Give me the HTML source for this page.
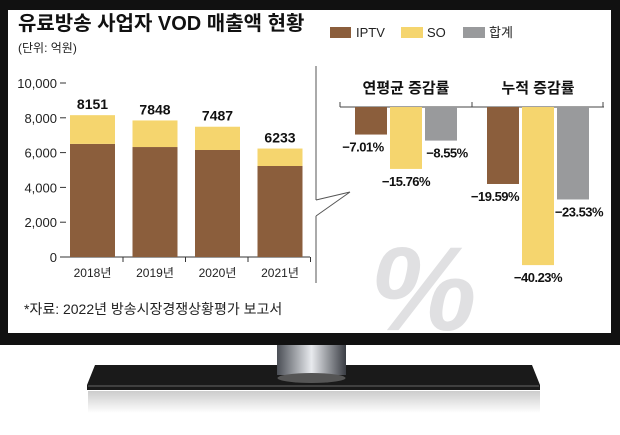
<!DOCTYPE html>
<html><head><meta charset="utf-8"><style>
body{margin:0;width:620px;height:430px;background:#fff;overflow:hidden;font-family:"Liberation Sans","Noto Sans CJK KR",sans-serif}
svg text{font-family:"Liberation Sans","Noto Sans CJK KR",sans-serif}
</style></head><body>
<svg width="620" height="430" viewBox="0 0 620 430">
<defs>
<linearGradient id="neck" x1="0" x2="1"><stop offset="0" stop-color="#4a4e55"/><stop offset="0.5" stop-color="#e8eaee"/><stop offset="1" stop-color="#3a3d44"/></linearGradient>
<linearGradient id="refl" x1="0" y1="0" x2="0" y2="1"><stop offset="0" stop-color="#999"/><stop offset="1" stop-color="#fff"/></linearGradient>
</defs>
<rect x="0" y="0" width="620" height="345" fill="#111"/>
<rect x="8" y="10" width="603" height="323" fill="#fff"/>
<path d="M95 365 L532 365 L540 385 L540 390 L87 390 L87 385 Z" fill="#1a1a1a"/>
<line x1="88" y1="386" x2="539" y2="386" stroke="#666"/>
<rect x="277" y="345" width="69" height="30" fill="url(#neck)"/>
<ellipse cx="311.5" cy="378" rx="34" ry="5" fill="#555"/>
<rect x="88" y="391" width="452" height="22" fill="url(#refl)" opacity="0.5"/>
<text x="18" y="30" font-size="20" font-weight="bold" fill="#111">유료방송 사업자 VOD 매출액 현황</text>
<text x="18" y="52" font-size="12" fill="#222">(단위: 억원)</text>
<g>
<rect x="330" y="27" width="21" height="11" fill="#8B5E3C"/>
<text x="356" y="37" font-size="13" fill="#222">IPTV</text>
<rect x="401" y="27" width="22" height="11" fill="#F5D56E"/>
<text x="427" y="37" font-size="13" fill="#222">SO</text>
<rect x="463" y="27" width="22" height="11" fill="#999a9c"/>
<text x="489" y="37" font-size="13" fill="#222">합계</text>
</g>
<g id="left"></g>
<line x1="316" y1="66" x2="316" y2="200" stroke="#555"/>
<path d="M316 200 L350 192 M316 216 L316 283 M316 216 L350 192" stroke="#555" fill="none"/>
<text x="370" y="330" font-size="120" font-style="italic" font-weight="bold" fill="#e0e0e2">%</text>
<g id="right"></g>
<text x="24" y="314" font-size="14" fill="#222">*자료: 2022년 방송시장경쟁상황평가 보고서</text>
</svg>
<script>
const years=["2018년","2019년","2020년","2021년"];
const iptv=[6500,6320,6150,5230];
const totals=[8151,7848,7487,6233];
const yTicks=[0,2000,4000,6000,8000,10000];
const yTickLabels=["0","2,000","4,000","6,000","8,000","10,000"];
const growthGroups=["연평균 증감률","누적 증감률"];
const growthIptv=[-7.01,-19.59];
const growthSo=[-15.76,-40.23];
const growthTotal=[-8.55,-23.53];
const NS="http://www.w3.org/2000/svg";
function mk(p,t,a){const e=document.createElementNS(NS,t);for(const k in a)e.setAttribute(k,a[k]);p.appendChild(e);return e;}
const L=document.getElementById('left');
const y0=257,yTop=83;
const yS=v=>y0-(v/10000)*(y0-yTop);
const xS=i=>70+i*62.5;
const bw=45;
let ax=mk(L,'line',{x1:64,y1:y0,x2:310,y2:y0,stroke:'#333'});


yTicks.forEach((v,i)=>{
 const tk=mk(L,'line',{x1:60,y1:yS(v),x2:66,y2:yS(v),stroke:'#333'});
 
 
 const t=mk(L,'text',{x:57,y:yS(v)+5,'font-size':13,'text-anchor':'end',fill:'#222'});
 t.textContent=yTickLabels[i];
 
 
});
years.forEach((yr,i)=>{
 const x=xS(i);
 const b=mk(L,'rect',{x:x,y:yS(iptv[i]),width:bw,height:y0-yS(iptv[i]),fill:'#8B5E3C'});
 
 
 const s=mk(L,'rect',{x:x,y:yS(totals[i]),width:bw,height:yS(iptv[i])-yS(totals[i]),fill:'#F5D56E'});
 
 
 const v=mk(L,'text',{x:x+bw/2,y:yS(totals[i])-6,'font-size':14,'font-weight':'bold','text-anchor':'middle',fill:'#111'});
 v.textContent=totals[i];
 
 
 const tk=mk(L,'line',{x1:x+bw+8,y1:y0,x2:x+bw+8,y2:y0+5,stroke:'#333'});
 
 
 const c=mk(L,'text',{x:x+bw/2,y:y0+20,'font-size':12,'text-anchor':'middle',fill:'#222'});
 c.textContent=yr;
 
 
});
const R=document.getElementById('right');
const r0=107,pp=3.93;
const gy=v=>r0-v*pp;
const a2=mk(R,'line',{x1:340,y1:r0,x2:604,y2:r0,stroke:'#444'});


[340,472,603].forEach(x=>{const t=mk(R,'line',{x1:x,y1:r0-5,x2:x,y2:r0,stroke:'#444'});
 
 });
const colors=['#8B5E3C','#F5D56E','#999a9c'];
const keys=['iptv','so','total'];
growthGroups.forEach((g,gi)=>{
 const gx=355+gi*132;
 const tt=mk(R,'text',{x:gx+51,y:93,'font-size':15,'font-weight':'bold','text-anchor':'middle',fill:'#111'});
 tt.textContent=g;
 
 
 const vals=[growthIptv[gi],growthSo[gi],growthTotal[gi]];
 vals.forEach((v,k)=>{
  const x=gx+k*35;
  const b=mk(R,'rect',{x:x,y:r0,width:32,height:gy(v)-r0,fill:colors[k]});
  
  
  let lx=x+16;
  if(k===0) lx=x+8; if(k===2) lx=x+22;
  const t=mk(R,'text',{x:lx,y:gy(v)+17,'font-size':13,'font-weight':'bold','text-anchor':'middle',fill:'#111','letter-spacing':'-0.5'});
  t.textContent='−'+Math.abs(v).toFixed(2)+'%';
  
  
 });
});
</script>
</body></html>
